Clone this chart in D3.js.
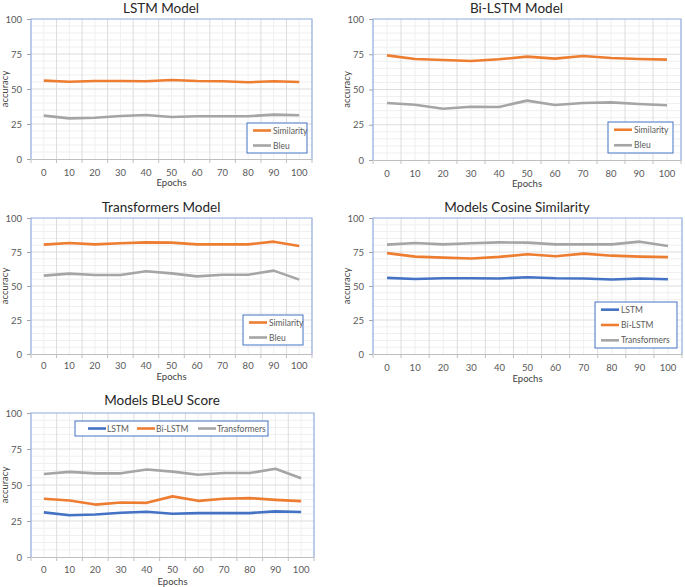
<!DOCTYPE html>
<html><head><meta charset="utf-8">
<script src="https://cdn.jsdelivr.net/npm/d3@7"></script>
<style>body{margin:0;background:#fff}svg{display:block}</style>
</head><body>
<script>
const epochs = [0,10,20,30,40,50,60,70,80,90,100];
const yTicks = [0,25,50,75,100];
const lstmSim  = [56.0,55.2,55.7,55.7,55.5,56.4,55.7,55.5,54.8,55.5,55.0];
const lstmBleu = [31.0,29.0,29.5,30.7,31.4,30.0,30.5,30.5,30.5,31.7,31.2];
const biSim    = [74.2,71.6,70.9,70.2,71.4,73.3,71.9,73.8,72.3,71.6,71.2];
const biBleu   = [40.4,39.2,36.4,37.8,37.6,42.1,39.0,40.4,40.9,39.7,38.8];
const trSim    = [80.4,81.6,80.6,81.4,82.1,81.9,80.6,80.6,80.6,82.6,79.4];
const trBleu   = [57.6,59.1,58.1,58.1,60.8,59.3,57.1,58.3,58.3,61.3,54.7];

const ORANGE="#ed7d31", GRAY="#a5a5a5", BLUE="#4472c4";
const FONT="Lato, 'Open Sans', sans-serif";

const svg = d3.select("body").append("svg").attr("width",685).attr("height",587);

const panels = [
  {title:"LSTM Model", L:31,R:312,T:19,B:159, titleY:13, tickY:172, xlabY:186, ylabX:8,
   series:[{name:"Similarity",v:lstmSim,c:ORANGE},{name:"Bleu",v:lstmBleu,c:GRAY}],
   legend:{x:247,y:123,w:60,h:30,layout:"v"}},
  {title:"Bi-LSTM Model", L:373,R:681,T:19,B:160, titleY:13, tickY:173, xlabY:187, ylabX:350,
   series:[{name:"Similarity",v:biSim,c:ORANGE},{name:"Bleu",v:biBleu,c:GRAY}],
   legend:{x:608,y:122,w:65,h:31,layout:"v"}},
  {title:"Transformers Model", L:31,R:312,T:218,B:354, titleY:212, tickY:365, xlabY:380, ylabX:8,
   series:[{name:"Similarity",v:trSim,c:ORANGE},{name:"Bleu",v:trBleu,c:GRAY}],
   legend:{x:243,y:315,w:60,h:30,layout:"v"}},
  {title:"Models Cosine Similarity", L:373,R:682,T:218,B:354, titleY:212, tickY:367, xlabY:382, ylabX:350,
   series:[{name:"LSTM",v:lstmSim,c:BLUE},{name:"Bi-LSTM",v:biSim,c:ORANGE},{name:"Transformers",v:trSim,c:GRAY}],
   legend:{x:595,y:302,w:82,h:46,layout:"v"}},
  {title:"Models BLeU Score", L:31,R:314,T:413,B:557, titleY:405, tickY:569, xlabY:584.5, ylabX:8,
   series:[{name:"LSTM",v:lstmBleu,c:BLUE},{name:"Bi-LSTM",v:biBleu,c:ORANGE},{name:"Transformers",v:trBleu,c:GRAY}],
   legend:{x:75,y:421,w:193,h:15,layout:"h"}}
];

panels.forEach(p=>{
  const g = svg.append("g");
  const x = d3.scaleBand().domain(epochs).range([p.L,p.R]).padding(0);
  const y = d3.scaleLinear().domain([0,100]).range([p.B,p.T]);
  const bw = x.bandwidth();
  const cx = (p.L+p.R)/2;

  g.append("g").selectAll("line").data(d3.range(0,101,5).filter(v=>v%25!==0)).join("line")
    .attr("x1",p.L).attr("x2",p.R).attr("y1",d=>y(d)).attr("y2",d=>y(d))
    .attr("stroke","#efefef").attr("stroke-width",1);
  g.append("g").selectAll("line").data(epochs).join("line")
    .attr("x1",d=>x(d)+bw/2).attr("x2",d=>x(d)+bw/2).attr("y1",p.T).attr("y2",p.B)
    .attr("stroke","#efefef").attr("stroke-width",1);
  g.append("g").selectAll("line").data(epochs.slice(1)).join("line")
    .attr("x1",d=>x(d)).attr("x2",d=>x(d)).attr("y1",p.T).attr("y2",p.B)
    .attr("stroke","#dcdcdc").attr("stroke-width",1);
  g.append("g").selectAll("line").data(yTicks.slice(1,4)).join("line")
    .attr("x1",p.L).attr("x2",p.R).attr("y1",d=>y(d)).attr("y2",d=>y(d))
    .attr("stroke","#dcdcdc").attr("stroke-width",1);

  const ya = g.append("g").attr("transform",`translate(${p.L},0)`)
    .call(d3.axisLeft(y).tickValues(yTicks).tickSize(4).tickPadding(5));
  ya.select(".domain").remove();
  ya.selectAll(".tick line").attr("stroke","#a6a6a6");
  ya.selectAll("text").attr("fill","#595959").style("font-family",FONT).style("font-size","9.5px");

  const xa = g.append("g").attr("transform",`translate(0,${p.B})`)
    .call(d3.axisBottom(x).tickSize(0).tickPadding(p.tickY-p.B-3));
  xa.select(".domain").attr("stroke","#bfbfbf");
  xa.selectAll("text").attr("fill","#595959").style("font-family",FONT).style("font-size","9.5px");
  g.append("g").selectAll("line").data(epochs.concat(["end"])).join("line")
    .attr("x1",d=>d==="end"?p.R:x(d)).attr("x2",d=>d==="end"?p.R:x(d))
    .attr("y1",p.B).attr("y2",p.B+4).attr("stroke","#bfbfbf");

  g.append("path").attr("d",`M${p.L},${p.B}V${p.T}H${p.R}V${p.B}`)
    .attr("fill","none").attr("stroke","#8faadc").attr("stroke-width",1.2);

  const line = d3.line().x((d,i)=>x(epochs[i])+bw/2).y(d=>y(d));
  p.series.forEach(s=>{
    g.append("path").datum(s.v).attr("d",line).attr("fill","none")
      .attr("stroke",s.c).attr("stroke-width",2.6).attr("stroke-linejoin","round");
  });

  g.append("text").attr("x",cx-10.5).attr("y",p.titleY).attr("text-anchor","middle")
    .attr("fill","#262626").style("font-family",FONT).style("font-size","13.5px").text(p.title);
  g.append("text").attr("x",cx).attr("y",p.xlabY).attr("text-anchor","middle")
    .attr("fill","#404040").style("font-family",FONT).style("font-size","9.5px").text("Epochs");
  g.append("text").attr("transform",`translate(${p.ylabX},${(p.T+p.B)/2}) rotate(-90)`)
    .attr("text-anchor","middle").attr("fill","#404040").style("font-family",FONT)
    .style("font-size","9.5px").text("accuracy");

  const lg = p.legend;
  g.append("rect").attr("x",lg.x).attr("y",lg.y).attr("width",lg.w).attr("height",lg.h)
    .attr("fill","#fff").attr("stroke","#4472c4").attr("stroke-width",1);
  if(lg.layout==="v"){
    const n=p.series.length, step=lg.h/n;
    p.series.forEach((s,i)=>{
      const cy = lg.y + step*(i+0.5);
      g.append("line").attr("x1",lg.x+6).attr("x2",lg.x+24).attr("y1",cy).attr("y2",cy)
        .attr("stroke",s.c).attr("stroke-width",2.6);
      g.append("text").attr("x",lg.x+26).attr("y",cy+3).attr("fill","#595959")
        .style("font-family",FONT).style("font-size","8.5px").text(s.name);
    });
  } else {
    const offs=[13,62,123];
    p.series.forEach((s,i)=>{
      const lx = lg.x+offs[i], cy = lg.y+lg.h/2;
      g.append("line").attr("x1",lx).attr("x2",lx+18).attr("y1",cy).attr("y2",cy)
        .attr("stroke",s.c).attr("stroke-width",2.6);
      g.append("text").attr("x",lx+19).attr("y",cy+3).attr("fill","#595959")
        .style("font-family",FONT).style("font-size","8.5px").text(s.name);
    });
  }
});
</script>
</body></html>
